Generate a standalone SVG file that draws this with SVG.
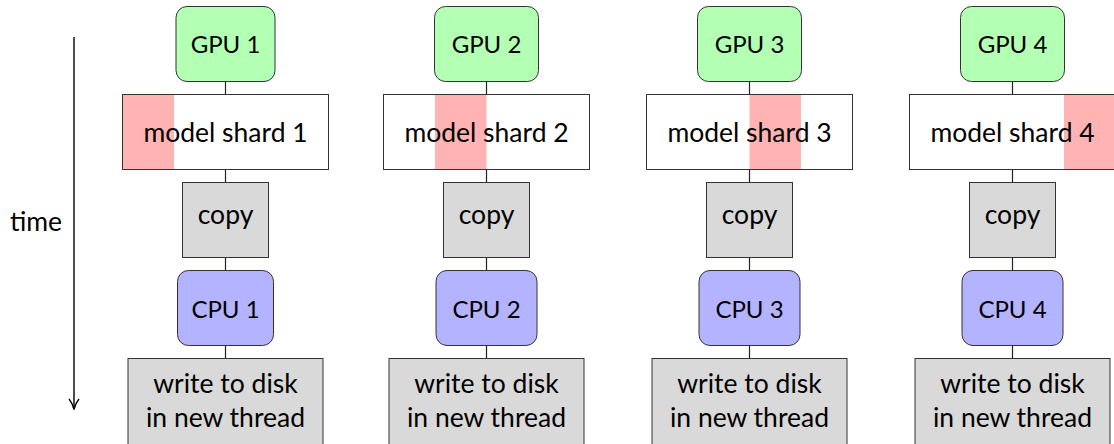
<svg xmlns="http://www.w3.org/2000/svg" width="1114" height="444" viewBox="0 0 1114 444">
<style>
  text { font-family: Lato, "Open Sans", "Liberation Sans", sans-serif; font-size: 26.5px; fill: #000; text-anchor: middle; }
  text.cap { font-size: 24px; }
  .box { stroke: #333; stroke-width: 1; }
  .gpu { fill: #b3ffb3; }
  .cpu { fill: #b3b3ff; }
  .gray { fill: #d9d9d9; }
  .white { fill: #ffffff; }
  .frame { fill: none; stroke: #333; stroke-width: 1; }
  .hl { fill: #ffb3b3; }
  .conn line { stroke: #222; stroke-width: 1.2; }
</style>
<rect width="1114" height="444" fill="#ffffff"/>

<g id="time-axis">
  <line x1="74" y1="37" x2="74" y2="409" stroke="#000" stroke-width="1.4"/>
  <path d="M69,399 Q72.5,403 74,409.5 Q75.5,403 79,399" fill="none" stroke="#000" stroke-width="1.4"/>
  <text x="36" y="231">time</text>
</g>

<g id="connectors" class="conn">
  <line x1="225.5" y1="81.5" x2="225.5" y2="94.5"/>
  <line x1="225.5" y1="169.5" x2="225.5" y2="182.5"/>
  <line x1="225.5" y1="257.5" x2="225.5" y2="270.5"/>
  <line x1="225.5" y1="345.5" x2="225.5" y2="358.5"/>
  <line x1="486.5" y1="81.5" x2="486.5" y2="94.5"/>
  <line x1="486.5" y1="169.5" x2="486.5" y2="182.5"/>
  <line x1="486.5" y1="257.5" x2="486.5" y2="270.5"/>
  <line x1="486.5" y1="345.5" x2="486.5" y2="358.5"/>
  <line x1="749.5" y1="81.5" x2="749.5" y2="94.5"/>
  <line x1="749.5" y1="169.5" x2="749.5" y2="182.5"/>
  <line x1="749.5" y1="257.5" x2="749.5" y2="270.5"/>
  <line x1="749.5" y1="345.5" x2="749.5" y2="358.5"/>
  <line x1="1012.5" y1="81.5" x2="1012.5" y2="94.5"/>
  <line x1="1012.5" y1="169.5" x2="1012.5" y2="182.5"/>
  <line x1="1012.5" y1="257.5" x2="1012.5" y2="270.5"/>
  <line x1="1012.5" y1="345.5" x2="1012.5" y2="358.5"/>
</g>

<!-- Column 1 -->
<g id="gpu1"><rect class="box gpu" x="176" y="6.5" width="99" height="75" rx="11"/><text class="cap" x="225.5" y="52.5">GPU 1</text></g>
<g id="shard1"><rect class="white" x="122.5" y="94.5" width="206" height="75"/><rect class="hl" x="122.5" y="94.5" width="51.5" height="75"/><rect class="frame" x="122.5" y="94.5" width="206" height="75"/><text x="225.5" y="141.5">model shard 1</text></g>
<g id="copy1"><rect class="box gray" x="182.5" y="182.5" width="86" height="75"/><text x="225.5" y="224">copy</text></g>
<g id="cpu1"><rect class="box cpu" x="177.5" y="270.5" width="96" height="75" rx="11"/><text class="cap" x="225.5" y="317.5">CPU 1</text></g>
<g id="write1"><rect class="box gray" x="128" y="358.5" width="195" height="100"/><text x="225.5" y="392.5">write to disk</text><text x="225.5" y="427">in new thread</text></g>

<!-- Column 2 -->
<g id="gpu2"><rect class="box gpu" x="434.5" y="6.5" width="104" height="75" rx="11"/><text class="cap" x="486.5" y="52.5">GPU 2</text></g>
<g id="shard2"><rect class="white" x="383.5" y="94.5" width="206" height="75"/><rect class="hl" x="435" y="94.5" width="51.5" height="75"/><rect class="frame" x="383.5" y="94.5" width="206" height="75"/><text x="486.5" y="141.5">model shard 2</text></g>
<g id="copy2"><rect class="box gray" x="443.5" y="182.5" width="86" height="75"/><text x="486.5" y="224">copy</text></g>
<g id="cpu2"><rect class="box cpu" x="436" y="270.5" width="101" height="75" rx="11"/><text class="cap" x="486.5" y="317.5">CPU 2</text></g>
<g id="write2"><rect class="box gray" x="389" y="358.5" width="195" height="100"/><text x="486.5" y="392.5">write to disk</text><text x="486.5" y="427">in new thread</text></g>

<!-- Column 3 -->
<g id="gpu3"><rect class="box gpu" x="697.5" y="6.5" width="104" height="75" rx="11"/><text class="cap" x="749.5" y="52.5">GPU 3</text></g>
<g id="shard3"><rect class="white" x="646.5" y="94.5" width="206" height="75"/><rect class="hl" x="749.5" y="94.5" width="51.5" height="75"/><rect class="frame" x="646.5" y="94.5" width="206" height="75"/><text x="749.5" y="141.5">model shard 3</text></g>
<g id="copy3"><rect class="box gray" x="706.5" y="182.5" width="86" height="75"/><text x="749.5" y="224">copy</text></g>
<g id="cpu3"><rect class="box cpu" x="699" y="270.5" width="101" height="75" rx="11"/><text class="cap" x="749.5" y="317.5">CPU 3</text></g>
<g id="write3"><rect class="box gray" x="652" y="358.5" width="195" height="100"/><text x="749.5" y="392.5">write to disk</text><text x="749.5" y="427">in new thread</text></g>

<!-- Column 4 -->
<g id="gpu4"><rect class="box gpu" x="960.5" y="6.5" width="104" height="75" rx="11"/><text class="cap" x="1012.5" y="52.5">GPU 4</text></g>
<g id="shard4"><rect class="white" x="909.5" y="94.5" width="206" height="75"/><rect class="hl" x="1064" y="94.5" width="51.5" height="75"/><rect class="frame" x="909.5" y="94.5" width="206" height="75"/><text x="1012.5" y="141.5">model shard 4</text></g>
<g id="copy4"><rect class="box gray" x="969.5" y="182.5" width="86" height="75"/><text x="1012.5" y="224">copy</text></g>
<g id="cpu4"><rect class="box cpu" x="962" y="270.5" width="101" height="75" rx="11"/><text class="cap" x="1012.5" y="317.5">CPU 4</text></g>
<g id="write4"><rect class="box gray" x="915" y="358.5" width="195" height="100"/><text x="1012.5" y="392.5">write to disk</text><text x="1012.5" y="427">in new thread</text></g>
</svg>
